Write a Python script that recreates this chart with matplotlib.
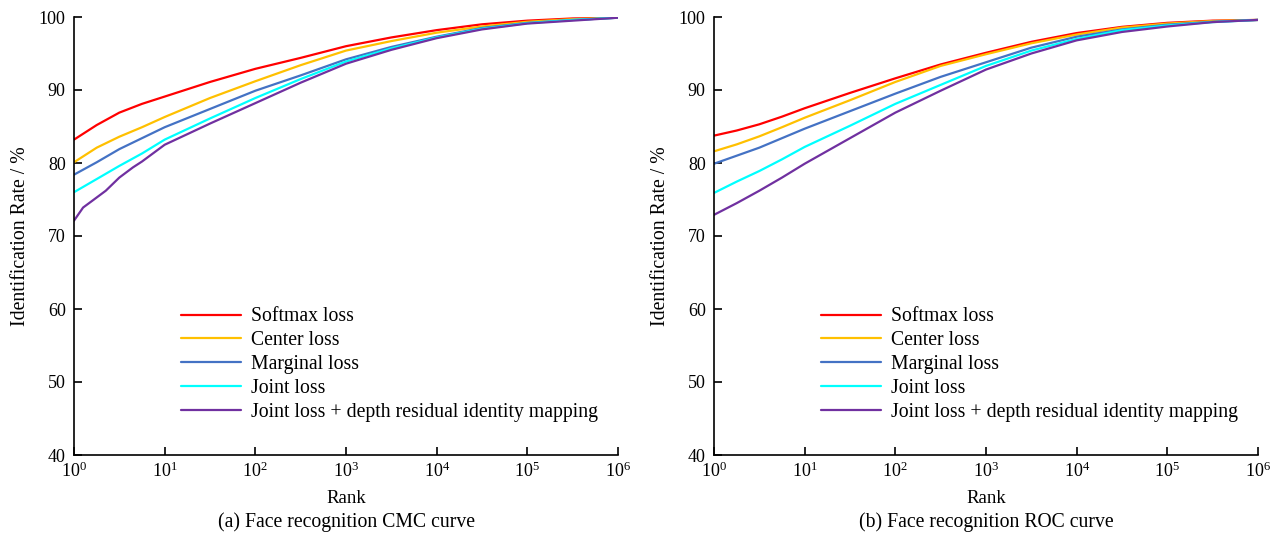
import matplotlib
matplotlib.use("Agg")
import matplotlib.pyplot as plt
from matplotlib.ticker import FixedLocator, NullLocator, FixedFormatter

plt.rcParams['font.family'] = ['Liberation Serif', 'DejaVu Serif']
plt.rcParams['mathtext.fontset'] = 'custom'
plt.rcParams['mathtext.rm'] = 'Liberation Serif'
plt.rcParams['mathtext.it'] = 'Liberation Serif:italic'

# ---------------- data ----------------
series_names = ["Softmax loss", "Center loss", "Marginal loss", "Joint loss",
                "Joint loss + depth residual identity mapping"]
series_colors = ["#FF0000", "#FFC000", "#4472C4", "#00FFFF", "#7030A0"]

rank = [1, 1.78, 3.16, 5.62, 10, 31.6, 100, 316, 1000, 3162, 10000, 31623,
        100000, 316228, 1000000]
rank_purple_cmc = [1, 1.26, 1.58, 2.24, 3.16, 4.47, 5.62, 10, 31.6, 100, 316,
                   1000, 3162, 10000, 31623, 100000, 316228, 1000000]

# (a) CMC
cmc_softmax = [83.2, 85.2, 86.9, 88.1, 89.1, 91.1, 92.9, 94.4, 96.0, 97.2, 98.2, 99.0, 99.5, 99.8, 99.9]
cmc_center = [80.1, 82.1, 83.6, 84.9, 86.3, 88.9, 91.2, 93.4, 95.4, 96.7, 97.85, 98.7, 99.35, 99.7, 99.9]
cmc_marginal = [78.4, 80.1, 81.9, 83.4, 84.9, 87.4, 89.9, 92.0, 94.2, 95.9, 97.3, 98.5, 99.2, 99.6, 99.9]
cmc_joint = [76.0, 77.8, 79.6, 81.3, 83.2, 86.1, 88.9, 91.5, 93.9, 95.7, 97.2, 98.4, 99.15, 99.6, 99.9]
cmc_joint_res = [72.1, 73.9, 74.8, 76.2, 78.0, 79.4, 80.2, 82.5, 85.4, 88.2, 91.0, 93.6, 95.5, 97.1,
                 98.3, 99.1, 99.5, 99.9]

# (b) ROC
roc_softmax = [83.75, 84.45, 85.3, 86.35, 87.5, 89.6, 91.6, 93.5, 95.1, 96.6, 97.8, 98.65, 99.2, 99.5, 99.6]
roc_center = [81.6, 82.55, 83.65, 84.9, 86.2, 88.6, 91.1, 93.3, 94.9, 96.4, 97.6, 98.55, 99.1, 99.45, 99.6]
roc_marginal = [79.9, 81.0, 82.1, 83.4, 84.7, 87.1, 89.5, 91.8, 93.8, 95.8, 97.3, 98.3, 98.95, 99.35, 99.6]
roc_joint = [75.9, 77.45, 78.9, 80.5, 82.2, 85.1, 88.1, 90.7, 93.3, 95.4, 97.0, 98.2, 98.85, 99.3, 99.6]
roc_joint_res = [72.9, 74.5, 76.2, 78.0, 79.9, 83.4, 86.9, 89.9, 92.8, 95.0, 96.8, 97.95, 98.7, 99.3, 99.6]

x_ticks = [1, 10, 100, 1000, 10000, 100000, 1000000]
x_tick_labels = [r"$10^0$", r"$10^1$", r"$10^2$", r"$10^3$", r"$10^4$", r"$10^5$", r"$10^6$"]
y_ticks = [40, 50, 60, 70, 80, 90, 100]
y_tick_labels = ["40", "50", "60", "70", "80", "90", "100"]

x_label = "Rank"
y_label = "Identification Rate / %"
captions = ["(a) Face recognition CMC curve", "(b) Face recognition ROC curve"]

# ---------------- plot ----------------
fig = plt.figure(figsize=(12.87, 5.40), dpi=100)
ax1 = fig.add_axes([74/1287, 85/540, 544/1287, 438/540])
ax2 = fig.add_axes([714/1287, 85/540, 544/1287, 438/540])

TICK_FS = 13
LAB_FS = 13.5
BIG_FS = 14.2

panels = [
    (ax1, [(rank, cmc_softmax), (rank, cmc_center), (rank, cmc_marginal),
           (rank, cmc_joint), (rank_purple_cmc, cmc_joint_res)]),
    (ax2, [(rank, roc_softmax), (rank, roc_center), (rank, roc_marginal),
           (rank, roc_joint), (rank, roc_joint_res)]),
]

for i, (ax, data) in enumerate(panels):
    for (xs, ys), name, col in zip(data, series_names, series_colors):
        ax.plot(xs, ys, color=col, lw=1.6, label=name, solid_capstyle='round',
                solid_joinstyle='round')
    ax.set_xscale('log')
    ax.set_xlim(1, 1e6)
    ax.set_ylim(40, 100)
    ax.xaxis.set_major_locator(FixedLocator(x_ticks))
    ax.xaxis.set_major_formatter(FixedFormatter(x_tick_labels))
    ax.xaxis.set_minor_locator(NullLocator())
    ax.yaxis.set_major_locator(FixedLocator(y_ticks))
    ax.yaxis.set_major_formatter(FixedFormatter(y_tick_labels))
    ax.spines['top'].set_visible(False)
    ax.spines['right'].set_visible(False)
    for s in ('left', 'bottom'):
        ax.spines[s].set_linewidth(1.2)
    ax.tick_params(axis='both', direction='in', length=6, width=1.2,
                   labelsize=TICK_FS, colors='black')
    ax.tick_params(axis='x', pad=5)
    ax.tick_params(axis='y', pad=6)
    ax.set_xlabel(x_label, fontsize=LAB_FS, labelpad=6)
    ax.set_ylabel(y_label, fontsize=BIG_FS, labelpad=6)
    ax.text(0.5, -0.153, captions[i], transform=ax.transAxes, ha='center',
            va='center', fontsize=BIG_FS)
    ax.legend(loc='lower left', bbox_to_anchor=(0.197, 0.075), frameon=False,
              fontsize=BIG_FS, handlelength=3.05, handletextpad=0.5,
              labelspacing=0.25, borderpad=0, borderaxespad=0)

fig.savefig("out.png", dpi=100)
